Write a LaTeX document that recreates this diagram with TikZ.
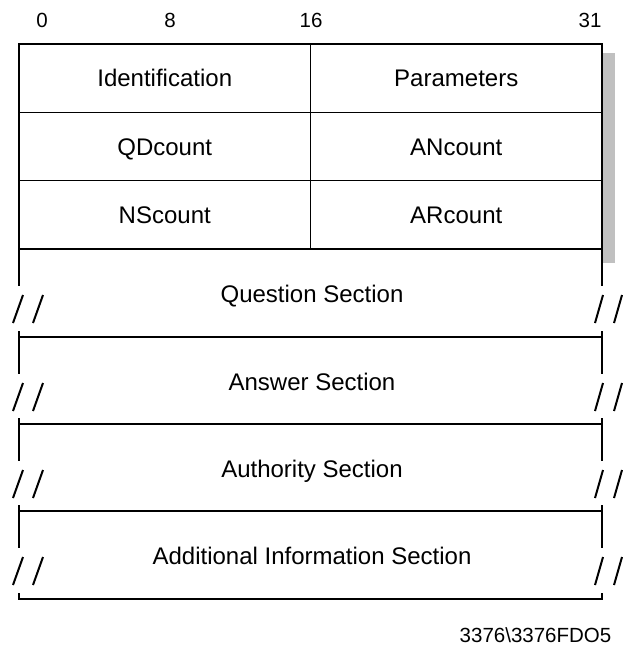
\documentclass[tikz,border=0pt]{standalone}
\usepackage{fontspec}
\setmainfont{Liberation Sans}
\usetikzlibrary{positioning}
\definecolor{PktShadow}{HTML}{C0C0C0}

\begin{document}
\begin{tikzpicture}[x=1pt,y=-1pt,line width=1.4pt,
 cell/.style={draw,fill=white,minimum width=291.5pt,minimum height=68.33pt,outer sep=0pt,inner sep=0pt,
  text height=20.4pt,text depth=3.2pt,font=\fontsize{24}{28}\selectfont},
 bitno/.style={font=\fontsize{20.5}{24}\selectfont},
 sect/.style={anchor=base,inner sep=0pt,font=\fontsize{24}{28}\selectfont},
 brk/.style={line width=2pt}]
\useasboundingbox (0,0) rectangle (623,645);
% header words with shadow
\fill[PktShadow] (603,53) rectangle (615,263);
\node[cell,anchor=north west] (ident) at (19,44) {Identification};
\node[cell,right=0pt of ident] (param) {Parameters};
\node[cell,below=0pt of ident] (qd) {QDcount};
\node[cell,right=0pt of qd] (an) {ANcount};
\node[cell,below=0pt of qd] (ns) {NScount};
\node[cell,right=0pt of ns] (ar) {ARcount};
% bit positions
\node[bitno] (b0) at (42,20) {0};
\node[bitno] (b8) at (170,20) {8};
\node[bitno] (b16) at (311,20) {16};
\node[bitno] (b31) at (590,20) {31};
% variable length sections
\foreach \t/\b/\txt/\nm in {249/337/Question Section/qsec,337/424/Answer Section/asec,424/511/Authority Section/ausec,511/599/Additional Information Section/adsec}{
 \node[sect] (\nm) at (312,\t+53) {\txt};
 \draw (19,\t) -- (19,\t+37) (19,\b-6) -- (19,\b) -- (602,\b) -- (602,\b-6) (602,\t) -- (602,\t+37);
 \draw[brk] (13,\t+74) -- (23,\t+46) (33,\t+74) -- (43,\t+46) (595,\t+74) -- (603,\t+46) (614,\t+74) -- (622,\t+46);
}
\node[bitno,anchor=base east,inner sep=0pt] (fig) at (612,642) {3376\textbackslash 3376FDO5};
\end{tikzpicture}
\end{document}
